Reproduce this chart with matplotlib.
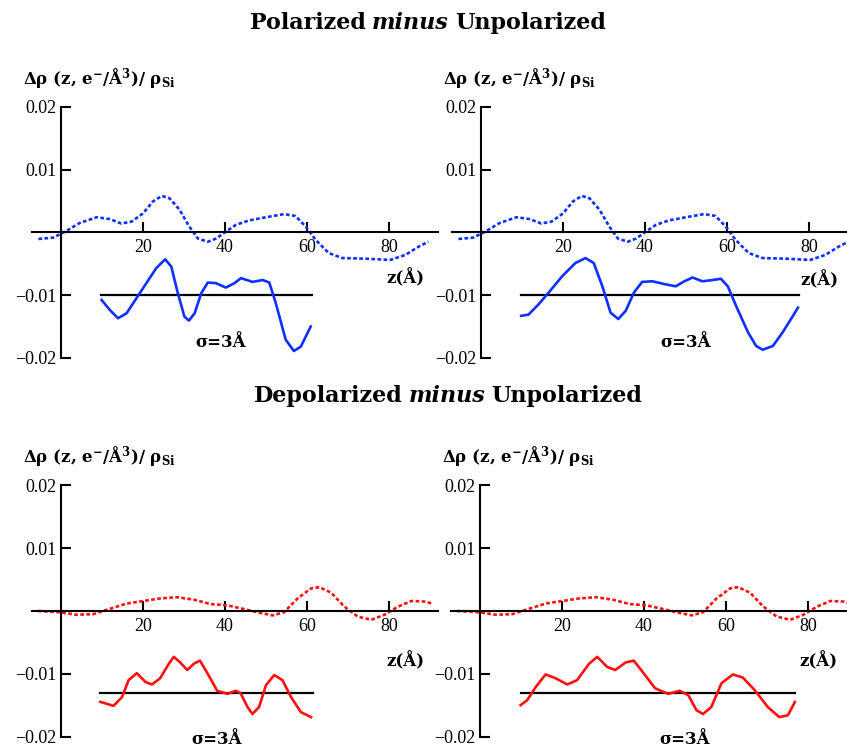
import numpy as np
import matplotlib
matplotlib.use("Agg")
import matplotlib.pyplot as plt

plt.rcParams['font.family'] = ['Liberation Serif', 'DejaVu Serif']
plt.rcParams['mathtext.fontset'] = 'custom'
plt.rcParams['mathtext.bf'] = 'DejaVu Serif:bold'
plt.rcParams['mathtext.rm'] = 'DejaVu Serif:bold'
plt.rcParams['mathtext.default'] = 'bf'
LABEL_FONT = ['DejaVu Serif']

# dotted curve, polarized - unpolarized (same in both top panels)
pol_dot_z = [-5.5, -1.9, 1.0, 4.6, 8.7, 11.9, 14.7, 17.2, 20.0, 22.4, 24.6, 26.5, 28.9,
             31.3, 33.4, 35.8, 37.8, 40.0, 42.7, 45.9, 50.0, 54.4, 57.2, 59.7, 62.1,
             65.3, 68.6, 74.3, 80.3, 84.0, 87.2, 89.6]
pol_dot_v = [-0.00106, -0.00085, 0.0001, 0.0015, 0.0024, 0.0021, 0.0014, 0.0017, 0.0030,
             0.0049, 0.0058, 0.0054, 0.0036, 0.0009, -0.0010, -0.0015, -0.0010, 0.0,
             0.0012, 0.0019, 0.0024, 0.0029, 0.0026, 0.0009, -0.0012, -0.0033, -0.0041,
             -0.0042, -0.0044, -0.0036, -0.0023, -0.0015]

# solid sigma=3A curves, top-left and top-right
pol_l_z = [9.9, 11.9, 13.9, 16.0, 18.4, 20.8, 23.2, 25.4, 26.9, 28.5, 30.1, 31.2, 32.6,
           34.2, 35.8, 37.8, 40.2, 42.3, 43.9, 46.7, 49.2, 50.8, 52.4, 54.8, 56.8, 58.5, 60.9]
pol_l_v = [-0.01077, -0.01236, -0.01369, -0.01289, -0.0105, -0.00812, -0.00573, -0.0043,
           -0.00546, -0.0097, -0.01342, -0.01406, -0.01289, -0.0097, -0.0080, -0.0081,
           -0.0088, -0.0081, -0.0073, -0.0079, -0.0076, -0.0080, -0.0113, -0.0171,
           -0.0189, -0.0182, -0.0150]
pol_r_z = [9.8, 11.6, 14.0, 16.5, 19.8, 23.0, 25.5, 27.5, 29.6, 31.6, 33.5, 35.3, 37.3,
           39.3, 41.8, 45.1, 47.5, 49.6, 51.6, 54.0, 56.5, 58.5, 60.2, 62.2, 65.1, 67.1,
           68.7, 71.2, 73.6, 76.1, 77.3]
pol_r_v = [-0.0133, -0.0131, -0.0115, -0.0096, -0.0070, -0.0049, -0.0041, -0.0049, -0.0086,
           -0.0128, -0.0138, -0.0125, -0.0096, -0.0079, -0.0078, -0.0083, -0.0086, -0.0078,
           -0.0072, -0.0078, -0.0076, -0.0074, -0.0086, -0.0117, -0.0159, -0.0181, -0.0187,
           -0.0181, -0.0159, -0.0133, -0.0120]

# dotted curve, depolarized - unpolarized (same in both bottom panels)
dep_dot_z = [-5.6, -0.2, 3.8, 7.9, 11.2, 16.1, 20.2, 24.2, 28.3, 32.4, 36.5, 40.6, 44.7,
             47.9, 51.6, 54.4, 57.7, 61.0, 63.0, 65.9, 69.1, 72.4, 75.7, 78.9, 82.2, 85.5,
             88.7, 90.4]
dep_dot_v = [0.0, -0.0002, -0.0006, -0.0005, 0.0002, 0.0012, 0.0016, 0.0020, 0.0022, 0.0018,
             0.0011, 0.0009, 0.0003, -0.0002, -0.0007, -0.0002, 0.0020, 0.0036, 0.0038,
             0.0029, 0.0007, -0.0009, -0.0014, -0.0006, 0.0007, 0.0016, 0.0015, 0.0012]

dep_l_z = [9.6, 12.8, 14.9, 16.5, 18.5, 20.6, 22.2, 24.2, 26.3, 27.5, 29.1, 30.8, 32.4, 33.9,
           35.7, 38.1, 40.6, 42.6, 43.8, 45.5, 46.7, 48.3, 50.0, 52.0, 54.0, 56.1, 58.5, 61.0]
dep_l_v = [-0.01447, -0.0151, -0.0137, -0.0110, -0.0099, -0.0113, -0.0117, -0.0107, -0.0084,
           -0.0073, -0.0082, -0.0094, -0.0084, -0.0079, -0.0099, -0.0127, -0.0132, -0.0127,
           -0.0131, -0.0153, -0.0164, -0.0153, -0.0118, -0.0102, -0.0110, -0.0137, -0.0161,
           -0.0169]
dep_r_z = [9.9, 11.5, 13.6, 16.0, 18.4, 21.3, 23.7, 26.6, 28.6, 31.0, 33.0, 35.5, 37.5, 39.9,
           42.7, 45.9, 48.7, 50.8, 52.8, 54.4, 56.4, 58.9, 61.7, 64.1, 67.0, 70.2, 73.0,
           75.1, 76.8]
dep_r_v = [-0.0150, -0.0142, -0.0121, -0.0101, -0.0107, -0.0117, -0.0110, -0.0084, -0.0073,
           -0.0089, -0.0094, -0.0082, -0.0079, -0.0099, -0.0123, -0.0132, -0.0127, -0.0134,
           -0.0158, -0.0164, -0.0153, -0.0115, -0.0101, -0.0106, -0.0126, -0.0153, -0.0169,
           -0.0166, -0.0145]

# reference (black) lines: level and z-range
ref_level = [-0.010, -0.010, -0.013, -0.013]
ref_range = [(9.7, 61.1), (9.8, 77.6), (9.6, 61.4), (9.9, 76.8)]

yticks = [-0.02, -0.01, 0.01, 0.02]
ytick_labels = ['\u22120.02', '\u22120.01', '0.01', '0.02']
xticks = [20, 40, 60, 80]
ylabel = r'Δρ (z, e$^{-}$/Å$^{3}$)/ ρ$_{Si}$'

W, H = 847, 748
fig = plt.figure(figsize=(W / 100, H / 100), dpi=100)

# (spine x pixel, zero-line y pixel) for each panel
panels = [(61, 232.3), (481, 232.3), (61, 611), (480, 611)]
xlim = (-8, 92)
ylim = (-0.0215, 0.0215)
px_per_z = 4.1
px_per_v = 6280

dots = [(pol_dot_z, pol_dot_v, '#1030ff'), (pol_dot_z, pol_dot_v, '#1030ff'),
        (dep_dot_z, dep_dot_v, '#ff1010'), (dep_dot_z, dep_dot_v, '#ff1010')]
solids = [(pol_l_z, pol_l_v), (pol_r_z, pol_r_v), (dep_l_z, dep_l_v), (dep_r_z, dep_r_v)]
sigma_pos = [(39, -0.0175), (50, -0.0175), (38, -0.0205), (50, -0.0205)]
zlab_pos = [(84, -0.0073), (82.5, -0.0076), (84, -0.0080), (82.5, -0.0080)]

for i, (sx, sy) in enumerate(panels):
    left = sx + xlim[0] * px_per_z
    w = (xlim[1] - xlim[0]) * px_per_z
    h = (ylim[1] - ylim[0]) * px_per_v
    top = sy - ylim[1] * px_per_v
    ax = fig.add_axes([left / W, 1 - (top + h) / H, w / W, h / H])
    ax.set_xlim(xlim)
    ax.set_ylim(ylim)
    ax.patch.set_visible(False)

    for s in ['top', 'right']:
        ax.spines[s].set_visible(False)
    ax.spines['left'].set_position(('data', 0))
    ax.spines['bottom'].set_position(('data', 0))
    ax.spines['left'].set_bounds(-0.02, 0.02)
    ax.spines['bottom'].set_bounds(-7, 92)
    for s in ['left', 'bottom']:
        ax.spines[s].set_linewidth(1.5)

    ax.set_yticks(yticks)
    ax.set_yticklabels(ytick_labels)
    ax.set_xticks(xticks)
    ax.tick_params(direction='in', length=7, width=1.5, labelsize=13, pad=3)
    ax.tick_params(axis='x', pad=5)

    dz, dv, col = dots[i]
    ax.plot(dz, dv, color=col, lw=1.9, linestyle=(0, (1.4, 0.9)), clip_on=False)
    lo, hi = ref_range[i]
    ax.plot([lo, hi], [ref_level[i], ref_level[i]], color='black', lw=1.6)
    ax.plot(solids[i][0], solids[i][1], color=col, lw=1.9)

    ax.text(sigma_pos[i][0], sigma_pos[i][1], 'σ=3Å', fontsize=12, fontweight='bold',
            family=LABEL_FONT, ha='center', va='center')
    ax.text(zlab_pos[i][0], zlab_pos[i][1], 'z(Å)', fontsize=12, fontweight='bold',
            family=LABEL_FONT, ha='center', va='center')
    ax.text(-9.2, 0.0245, ylabel, fontsize=12, fontweight='bold', family=LABEL_FONT,
            ha='left', va='center')


def mixed_title(parts, cx, cy):
    renderer = fig.canvas.get_renderer()
    texts = []
    for s, style in parts:
        t = fig.text(0, 1 - cy / H, s, fontsize=16, fontweight='bold', fontstyle=style,
                     family=LABEL_FONT, va='center', ha='left')
        texts.append(t)
    widths = [t.get_window_extent(renderer).width for t in texts]
    space = 6
    total = sum(widths) + space * (len(widths) - 1)
    x = cx - total / 2
    for t, wd in zip(texts, widths):
        t.set_x(x / W)
        x += wd + space


mixed_title([('Polarized', 'normal'), ('minus', 'italic'), ('Unpolarized', 'normal')], 428, 23)
mixed_title([('Depolarized', 'normal'), ('minus', 'italic'), ('Unpolarized', 'normal')], 448, 396)

fig.savefig('out.png', dpi=100)
